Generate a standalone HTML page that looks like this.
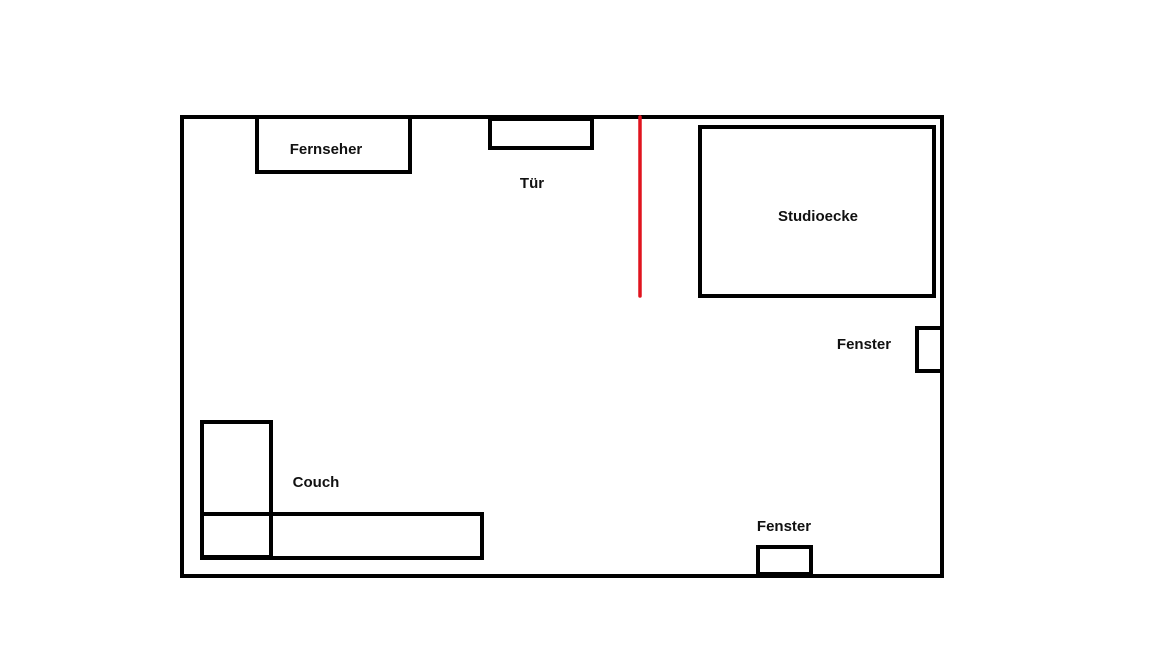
<!DOCTYPE html>
<html><head><style>
html,body{margin:0;padding:0;background:#fff;}
svg{display:block;}
text{font-family:"Liberation Sans",sans-serif;font-weight:bold;font-size:15px;fill:#111;text-anchor:middle;}
</style></head><body>
<svg width="1152" height="648" viewBox="0 0 1152 648">
<g fill="none" stroke="#000" stroke-width="4">
<rect x="182" y="117" width="760" height="459"/>
<rect x="257" y="117" width="153" height="55"/>
<rect x="490" y="119" width="102" height="29"/>
<rect x="700" y="127" width="234" height="169"/>
<rect x="917" y="328" width="25" height="43"/>
<rect x="758" y="547" width="53" height="27"/>
<rect x="202" y="422" width="69" height="135"/>
<rect x="202" y="514" width="280" height="44"/>
</g>
<line x1="640" y1="117" x2="640" y2="296" stroke="#e0141e" stroke-width="3.5" stroke-linecap="round"/>
<text x="326" y="154">Fernseher</text>
<text x="532" y="188">Tür</text>
<text x="818" y="221">Studioecke</text>
<text x="864" y="349">Fenster</text>
<text x="316" y="487">Couch</text>
<text x="784" y="531">Fenster</text>
</svg>
</body></html>
